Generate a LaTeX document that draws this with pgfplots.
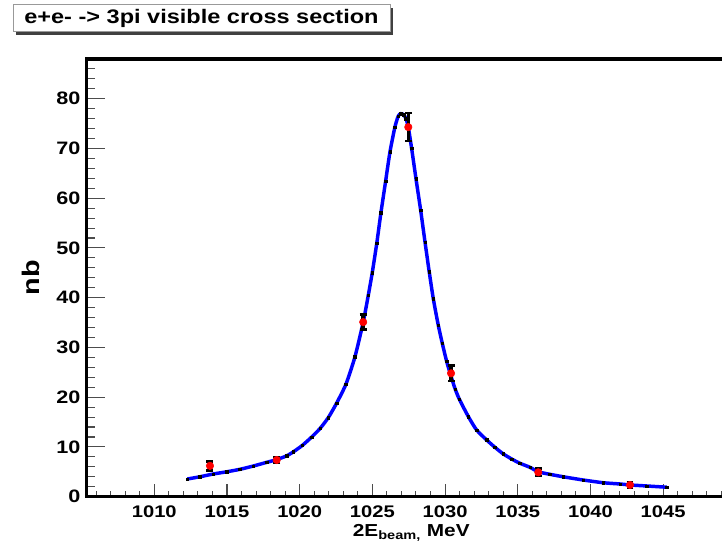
\documentclass[border=0pt]{standalone}
\usepackage{fontspec}
\setmainfont{Liberation Sans}
\usepackage{pgfplots}
\pgfplotsset{compat=1.18}
\newfontfamily\rootb{Liberation Sans}[FakeStretch=1.2]
\pgfplotstableread{
x y
1012.27 3.55
1013.14 4.0
1014.06 4.56
1014.98 5.0
1015.89 5.5
1016.81 6.16
1017.73 6.9
1018.42 7.45
1019.10 8.2
1019.56 9.0
1020.18 10.3
1020.83 12.0
1021.40 13.7
1021.97 15.9
1022.54 18.8
1023.18 22.6
1023.80 28.1
1024.37 35.1
1024.72 40.5
1024.99 45.0
1025.30 50.9
1025.59 57.1
1025.91 63.4
1026.21 69.3
1026.55 74.3
1026.78 76.5
1026.95 77.0
1027.15 76.8
1027.31 76.0
1027.47 74.3
1027.70 70.0
1028.00 63.9
1028.32 57.6
1028.62 51.2
1028.91 45.2
1029.19 39.8
1029.53 34.5
1029.81 30.8
1030.11 27.2
1030.41 24.2
1030.70 21.6
1030.98 19.6
1031.60 16.1
1032.17 13.4
1032.86 11.4
1033.43 9.92
1034.00 8.6
1034.58 7.57
1035.15 6.71
1035.84 5.9
1036.41 5.0
1037.20 4.5
1038.13 4.0
1039.50 3.35
1040.88 2.8
1042.03 2.55
1042.72 2.35
1043.87 2.15
1045.24 1.9
}\fitcurve
\pgfplotstableread{
x y e
1013.83 6.2 0.9
1018.42 7.37 0.6
1024.37 35.1 1.5
1027.47 74.3 2.8
1030.41 24.8 1.6
1036.41 4.9 0.8
1042.72 2.35 0.6
}\measured
\begin{document}
\begin{tikzpicture}
\useasboundingbox (0,0) rectangle (541.5pt,408pt);
\clip (0,0) rectangle (541.5pt,408pt);
\begin{axis}[
  at={(65pt,35.5pt)}, anchor=south west,
  scale only axis, width=486.9pt, height=328.3pt,
  xmin=1005.35, xmax=1050, ymin=0, ymax=88,
  xtick={1010,1015,...,1045}, ytick={0,10,...,80},
  minor xtick={1006,...,1049}, minor ytick={2,4,...,88},
  tick align=inside, xtick pos=left, ytick pos=left,
  axis line style={line width=2.4pt},
  every tick/.style={black!70, line width=0.8pt},
  x tick style={/pgfplots/major tick length=9.5pt, /pgfplots/minor tick length=4.5pt},
  y tick style={/pgfplots/major tick length=14pt, /pgfplots/minor tick length=6.2pt},
  /pgf/number format/assume math mode=true,
  /pgf/number format/set thousands separator={},
  xticklabel style={font=\rootb\bfseries\fontsize{12.6}{14}\selectfont, anchor=base, yshift=-15.75pt},
  yticklabel style={font=\rootb\bfseries\fontsize{13.5}{15}\selectfont, anchor=east, inner sep=0pt, xshift=-4.5pt},
  xlabel={2E\textsubscript{beam,} MeV},
  xlabel style={font=\rootb\bfseries\fontsize{13}{15}\selectfont, at={(axis description cs:0.5,-0.0914)}, anchor=base},
  ylabel={nb},
  ylabel style={font=\rootb\bfseries\fontsize{18}{20}\selectfont, at={(axis description cs:-0.0719,0.5)}, anchor=base},
]
\addplot[draw={rgb,255:red,0;green,0;blue,255}, line width=2.6pt, smooth, tension=0.4] table[x=x,y=y] {\fitcurve};
\addplot[only marks, mark=square*, mark size=0.9pt, black] table[x=x,y=y] {\fitcurve};
\addplot[only marks, mark=*, mark size=2.8pt, red,
  error bars/.cd, y dir=both, y explicit,
  error bar style={black, line width=2.6pt},
  error mark options={black, line width=1.8pt, mark size=2.6pt, rotate=90}]
  table[x=x,y=y,y error=e] {\measured};
\end{axis}
\fill[black!75] (12pt,381.75pt) rectangle (294.75pt,402pt);
\filldraw[fill=white, draw=black!40, line width=0.75pt] (9.75pt,384pt) rectangle (292.5pt,404.25pt);
\node[font=\rootb\bfseries\fontsize{14.7}{16}\selectfont, inner sep=0pt] at (151.1pt,394.1pt) {e+e- -> 3pi visible cross section};
\end{tikzpicture}
\end{document}
